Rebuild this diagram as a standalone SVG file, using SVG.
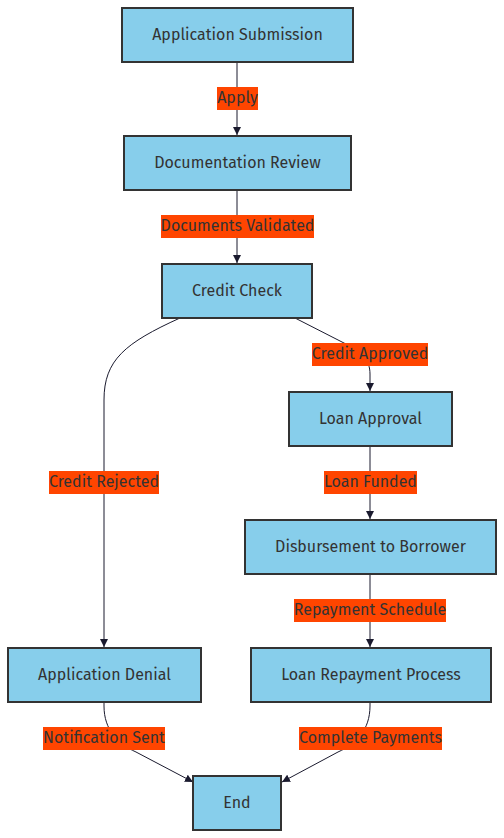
<svg xmlns="http://www.w3.org/2000/svg" width="504" height="838" viewBox="0 0 504 838">
<style>
.node rect{fill:#87CEEB;stroke:#333;stroke-width:2}
.node text,.lbl text{font-family:"Fira Sans","Open Sans","Liberation Sans",sans-serif;font-size:16px;fill:#333;text-anchor:middle;dominant-baseline:central}
.lbl rect{fill:#FF4500}
.edge{fill:none;stroke:#1a1a2e;stroke-width:1;marker-end:url(#arr)}
</style>
<defs>
<marker id="arr" viewBox="0 0 10 10" refX="10" refY="5" markerWidth="8" markerHeight="8" markerUnits="userSpaceOnUse" orient="auto">
<path d="M0,0 L10,5 L0,10 z" fill="#1a1a2e"/>
</marker>
</defs>
<rect width="504" height="838" fill="#fff"/>
<g id="connectors">
<path class="edge" d="M237,62 L237,135"/>
<path class="edge" d="M237,190 L237,263"/>
<path class="edge" d="M295,318 L342,342 C362,352 370,360 370,374 L370,391"/>
<path class="edge" d="M180,318 C125,343 104,360 104,400 L104,647"/>
<path class="edge" d="M370,446 L370,519"/>
<path class="edge" d="M370,574 L370,647"/>
<path class="edge" d="M104,702 L104,706 C104,730 118,744 136,752 L193,782"/>
<path class="edge" d="M370,702 L370,706 C370,730 356,744 338,752 L282,782"/>
</g>
<g id="edge-labels">
<g class="lbl"><rect x="217" y="87" width="41" height="23"/><text x="237.5" y="97.5">Apply</text></g>
<g class="lbl"><rect x="161" y="215" width="153" height="23"/><text x="237.5" y="225.5">Documents Validated</text></g>
<g class="lbl"><rect x="312" y="343" width="116" height="23"/><text x="370" y="353.5">Credit Approved</text></g>
<g class="lbl"><rect x="49" y="471" width="110" height="23"/><text x="104" y="481.5">Credit Rejected</text></g>
<g class="lbl"><rect x="324" y="471" width="93" height="23"/><text x="370.5" y="481.5">Loan Funded</text></g>
<g class="lbl"><rect x="294" y="599" width="152" height="23"/><text x="370" y="609.5">Repayment Schedule</text></g>
<g class="lbl"><rect x="43" y="727" width="122" height="23"/><text x="104" y="737.5">Notification Sent</text></g>
<g class="lbl"><rect x="299" y="727" width="143" height="23"/><text x="370.5" y="737.5">Complete Payments</text></g>
</g>
<g id="n-submission" class="node"><rect x="122" y="8" width="231" height="54"/><text x="237.5" y="34">Application Submission</text></g>
<g id="n-review" class="node"><rect x="124" y="136" width="227" height="54"/><text x="237.5" y="162">Documentation Review</text></g>
<g id="n-credit" class="node"><rect x="162" y="264" width="150" height="54"/><text x="237" y="290">Credit Check</text></g>
<g id="n-approval" class="node"><rect x="289" y="392" width="163" height="54"/><text x="370.5" y="418">Loan Approval</text></g>
<g id="n-disburse" class="node"><rect x="245" y="520" width="251" height="54"/><text x="370.5" y="546">Disbursement to Borrower</text></g>
<g id="n-denial" class="node"><rect x="8" y="648" width="193" height="54"/><text x="104.5" y="674">Application Denial</text></g>
<g id="n-repay" class="node"><rect x="251" y="648" width="240" height="54"/><text x="371" y="674">Loan Repayment Process</text></g>
<g id="n-end" class="node"><rect x="193" y="776" width="88" height="54"/><text x="237" y="802">End</text></g>
</svg>
